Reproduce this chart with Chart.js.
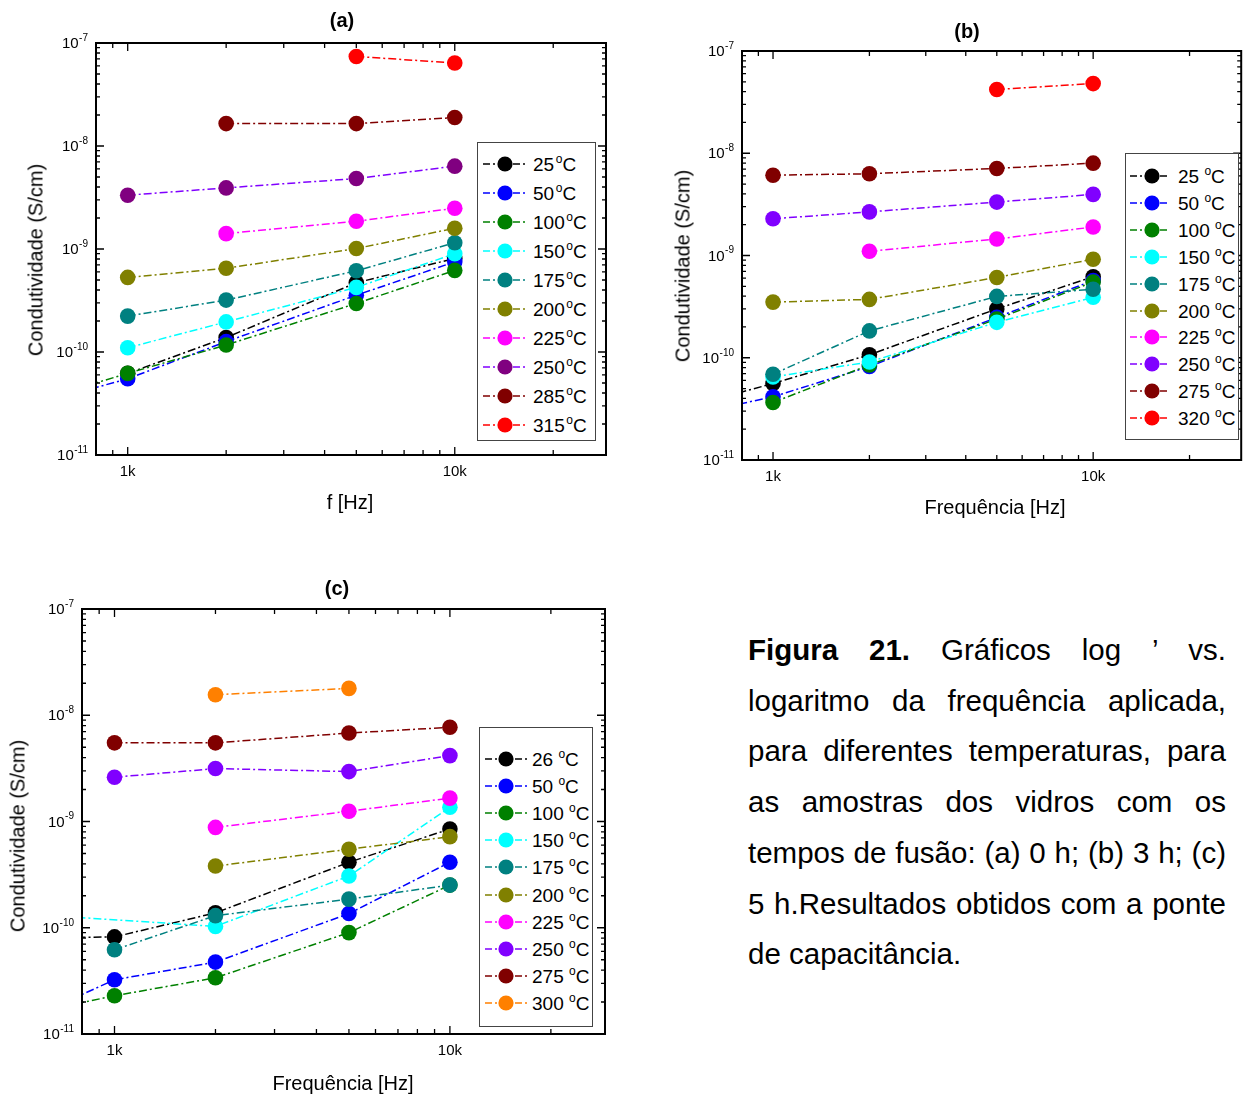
<!DOCTYPE html>
<html><head><meta charset="utf-8">
<script src="https://cdn.jsdelivr.net/npm/chart.js@4.4.1/dist/chart.umd.min.js"></script>
<style>
body{margin:0;background:#fff;width:1249px;height:1095px;position:relative;overflow:hidden;font-family:"Liberation Sans",Arial,Helvetica,sans-serif;color:#000;}
canvas{position:absolute;}
.t{position:absolute;transform:translate(-50%,-50%);white-space:nowrap;}
.title{font-weight:bold;font-size:20px;}
.axt{font-size:20px;}
.yt{transform:translate(-50%,-50%) rotate(-90deg);}
.leg{position:absolute;border:1px solid #444;background:#fff;box-sizing:border-box;}
.lrow{position:absolute;white-space:nowrap;font-size:19px;line-height:20px;}
.lrow sup{font-size:12px;vertical-align:8px;line-height:0;}
.cap{position:absolute;left:748px;width:478px;top:625px;font-size:29.5px;line-height:50.7px;}
.cap div{text-align:justify;text-align-last:justify;white-space:nowrap;}
.cap div.last{text-align:left;text-align-last:left;}
</style></head><body>

<canvas id="ca" width="625" height="500" style="left:0;top:0"></canvas>
<canvas id="cb" width="599" height="500" style="left:650px;top:0"></canvas>
<canvas id="cc" width="625" height="520" style="left:0;top:560px"></canvas>

<div class="t title" style="left:342px;top:20px">(a)</div>
<div class="t title" style="left:967px;top:31px">(b)</div>
<div class="t title" style="left:337px;top:588px">(c)</div>

<div class="t axt" style="left:350px;top:502px">f [Hz]</div>
<div class="t axt" style="left:995px;top:507px">Frequência [Hz]</div>
<div class="t axt" style="left:343px;top:1083px">Frequência [Hz]</div>

<div class="t axt yt" style="left:36px;top:260px">Condutividade (S/cm)</div>
<div class="t axt yt" style="left:683px;top:266px">Condutividade (S/cm)</div>
<div class="t axt yt" style="left:18px;top:836px">Condutividade (S/cm)</div>

<div class="cap">
<div><b>Figura 21.</b> Gráficos log ’ vs.</div>
<div>logaritmo da frequência aplicada,</div>
<div>para diferentes temperaturas, para</div>
<div>as amostras dos vidros com os</div>
<div>tempos de fusão: (a) 0 h; (b) 3 h; (c)</div>
<div>5 h.Resultados obtidos com a ponte</div>
<div class="last">de capacitância.</div>
</div>

<script>
// ---------- shared axis data ----------
const freqHz = [500, 1000, 2000, 5000, 10000];
const xMin = 800, xMax = 29000;
const yMin = 1e-11, yMax = 1e-7;
const xTickVals = [1000, 10000];
const xTickText = ['1k', '10k'];
const xMinorVals = [900, 2000, 3000, 4000, 5000, 6000, 7000, 8000, 9000, 20000];
const yTickVals = [1e-11, 1e-10, 1e-9, 1e-8, 1e-7];
const yTickBase = '10';
const yTickExp = ['-11', '-10', '-9', '-8', '-7'];
const yMinorMult = [2, 3, 4, 5, 6, 7, 8, 9];

// ---------- panel (a): 0 h ----------
const aTemps = ['25', '50', '100', '150', '175', '200', '225', '250', '285', '315'];
const a25  = [null, 6.2e-11, 1.38e-10, 4.7e-10, 8.1e-10];
const a50  = [3.0e-11, 5.5e-11, 1.26e-10, 3.56e-10, 7.5e-10];
const a100 = [3.2e-11, 6.2e-11, 1.17e-10, 2.96e-10, 6.2e-10];
const a150 = [null, 1.10e-10, 1.96e-10, 4.24e-10, 9.0e-10];
const a175 = [null, 2.23e-10, 3.19e-10, 6.14e-10, 1.15e-9];
const a200 = [null, 5.3e-10, 6.5e-10, 1.01e-9, 1.59e-9];
const a225 = [null, null, 1.41e-9, 1.86e-9, 2.49e-9];
const a250 = [null, 3.33e-9, 3.92e-9, 4.83e-9, 6.37e-9];
const a285 = [null, null, 1.65e-8, 1.65e-8, 1.89e-8];
const a315 = [null, null, null, 7.4e-8, 6.4e-8];

// ---------- panel (b): 3 h ----------
const bTemps = ['25', '50', '100', '150', '175', '200', '225', '250', '275', '320'];
const b25  = [3.1e-11, 5.6e-11, 1.07e-10, 3.0e-10, 6.2e-10];
const b50  = [2.6e-11, 4.15e-11, 8.2e-11, 2.48e-10, 5.7e-10];
const b100 = [null, 3.65e-11, 8.5e-11, 2.39e-10, 5.5e-10];
const b150 = [null, 6.5e-11, 9.1e-11, 2.22e-10, 3.9e-10];
const b175 = [null, 6.9e-11, 1.83e-10, 3.98e-10, 4.67e-10];
const b200 = [null, 3.5e-10, 3.72e-10, 6.1e-10, 9.2e-10];
const b225 = [null, null, 1.10e-9, 1.45e-9, 1.90e-9];
const b250 = [null, 2.29e-9, 2.67e-9, 3.33e-9, 3.96e-9];
const b275 = [null, 6.1e-9, 6.3e-9, 7.1e-9, 8.0e-9];
const b320 = [null, null, null, 4.2e-8, 4.8e-8];

// ---------- panel (c): 5 h ----------
const cTemps = ['26', '50', '100', '150', '175', '200', '225', '250', '275', '300'];
const c26  = [8.0e-11, 8.2e-11, 1.38e-10, 4.13e-10, 8.5e-10];
const c50  = [1.2e-11, 3.24e-11, 4.75e-11, 1.36e-10, 4.13e-10];
const c100 = [1.45e-11, 2.29e-11, 3.38e-11, 9.0e-11, 2.52e-10];
const c150 = [1.37e-10, null, 1.03e-10, 3.07e-10, 1.36e-9];
const c175 = [null, 6.2e-11, 1.30e-10, 1.86e-10, 2.52e-10];
const c200 = [null, null, 3.81e-10, 5.48e-10, 7.2e-10];
const c225 = [null, null, 8.8e-10, 1.25e-9, 1.66e-9];
const c250 = [null, 2.61e-9, 3.15e-9, 2.95e-9, 4.17e-9];
const c275 = [null, 5.5e-9, 5.5e-9, 6.8e-9, 7.7e-9];
const c300 = [null, null, 1.56e-8, 1.79e-8, null];

// ---------- colours ----------
const aLine   = ['#000000','#0000FF','#008000','#00FFFF','#008080','#808000','#FF00FF','#8000FF','#800000','#FF0000'];
const aMarker = ['#000000','#0000FF','#008000','#00FFFF','#008080','#808000','#FF00FF','#800080','#800000','#FF0000'];
const bLine   = ['#000000','#0000FF','#008000','#00FFFF','#008080','#808000','#FF00FF','#8000FF','#800000','#FF0000'];
const cLine   = ['#000000','#0000FF','#008000','#00FFFF','#008080','#808000','#FF00FF','#8000FF','#800000','#FF8000'];

const FONT = '"Liberation Sans", Arial, "DejaVu Sans", sans-serif';

const framePlugin = {
  id: 'frame',
  afterDraw(chart) {
    const ctx = chart.ctx, a = chart.chartArea, xs = chart.scales.x, ys = chart.scales.y;
    ctx.save();
    ctx.strokeStyle = '#000';
    ctx.lineWidth = 1.3;
    ctx.beginPath();
    const xt = (v, len) => { const p = xs.getPixelForValue(v);
      ctx.moveTo(p, a.bottom); ctx.lineTo(p, a.bottom - len);
      ctx.moveTo(p, a.top); ctx.lineTo(p, a.top + len); };
    const yt = (v, len) => { const p = ys.getPixelForValue(v);
      ctx.moveTo(a.left, p); ctx.lineTo(a.left + len, p);
      ctx.moveTo(a.right, p); ctx.lineTo(a.right - len, p); };
    xTickVals.forEach(v => xt(v, 8));
    xMinorVals.forEach(v => xt(v, 5));
    yTickVals.forEach(v => yt(v, 8));
    yTickVals.slice(0, -1).forEach(d => yMinorMult.forEach(m => yt(m * d, 4)));
    ctx.stroke();
    ctx.lineWidth = 2;
    ctx.strokeRect(a.left, a.top, a.right - a.left, a.bottom - a.top);
    // y tick labels: "10" with superscript exponent
    ctx.fillStyle = '#000';
    ctx.textBaseline = 'middle';
    ctx.textAlign = 'left';
    yTickVals.forEach((v, i) => {
      const p = ys.getPixelForValue(v);
      ctx.font = '10px ' + FONT;
      const we = ctx.measureText(yTickExp[i]).width;
      ctx.font = '15px ' + FONT;
      const wb = ctx.measureText(yTickBase).width;
      const xr = a.left - 8;
      ctx.fillText(yTickBase, xr - we - wb - 0.5, p + 1);
      ctx.font = '10px ' + FONT;
      ctx.fillText(yTickExp[i], xr - we, p - 5);
    });
    ctx.restore();
  }
};

function buildChart(id, series, lineColors, markerColors, box) {
  const n = series.length;
  const datasets = series.map((vals, i) => ({
    data: freqHz.map((f, j) => ({x: f, y: vals[j]})).filter(p => p.y !== null),
    borderColor: lineColors[i],
    backgroundColor: markerColors[i],
    pointBackgroundColor: markerColors[i],
    pointBorderColor: markerColors[i],
    pointBorderWidth: 0,
    pointRadius: 7.8,
    pointHoverRadius: 7.8,
    borderWidth: 1.5,
    borderDash: [8, 3, 2, 3],
    fill: false,
    tension: 0,
    clip: 0,
    order: n - i
  }));
  new Chart(document.getElementById(id), {
    type: 'line',
    data: {datasets},
    options: {
      responsive: false, animation: false, devicePixelRatio: 1, events: [],
      layout: {padding: box.pad},
      plugins: {legend: {display: false}, title: {display: false}, tooltip: {enabled: false}},
      scales: {
        x: {
          type: 'logarithmic', min: xMin, max: xMax,
          grid: {display: false, drawTicks: false}, border: {display: false},
          afterBuildTicks: s => { s.ticks = xTickVals.map(v => ({value: v})); },
          afterFit: s => { s.height = box.xh; },
          ticks: {callback: (v, i) => xTickText[i], padding: 8, autoSkip: false, maxRotation: 0,
                  color: '#000', font: {family: FONT, size: 15}}
        },
        y: {
          type: 'logarithmic', min: yMin, max: yMax,
          grid: {display: false, drawTicks: false}, border: {display: false},
          afterBuildTicks: s => { s.ticks = yTickVals.map(v => ({value: v})); },
          afterFit: s => { s.width = box.yw; },
          ticks: {display: false}
        }
      }
    },
    plugins: [framePlugin]
  });
}

buildChart('ca', [a25, a50, a100, a150, a175, a200, a225, a250, a285, a315], aLine, aMarker,
  {pad: {left: 0, top: 43, right: 19, bottom: 15}, yw: 96, xh: 30});
buildChart('cb', [b25, b50, b100, b150, b175, b200, b225, b250, b275, b320], bLine, bLine,
  {pad: {left: 0, top: 51, right: 4, bottom: 10}, yw: 92, xh: 30});
buildChart('cc', [c26, c50, c100, c150, c175, c200, c225, c250, c275, c300], cLine, cLine,
  {pad: {left: 0, top: 49, right: 20, bottom: 16}, yw: 82, xh: 30});

// ---------- legends (HTML) ----------
function buildLegend(temps, lineColors, markerColors, L) {
  const box = document.createElement('div');
  box.className = 'leg';
  Object.assign(box.style, {left: L.left + 'px', top: L.top + 'px', width: L.w + 'px', height: L.h + 'px'});
  document.body.appendChild(box);
  temps.forEach((t, i) => {
    const cy = L.first + i * L.step;
    const sw = L.s1 - L.s0, cx = L.cx - L.s0;
    const svg = document.createElementNS('http://www.w3.org/2000/svg', 'svg');
    svg.setAttribute('width', sw); svg.setAttribute('height', 20);
    svg.style.position = 'absolute'; svg.style.left = L.s0 + 'px'; svg.style.top = (cy - 10) + 'px';
    svg.innerHTML = `<line x1="0" y1="10" x2="${sw}" y2="10" stroke="${lineColors[i]}" stroke-width="1.5" stroke-dasharray="7 3 2 3"/>` +
                    `<circle cx="${cx}" cy="10" r="7.6" fill="${markerColors[i]}"/>`;
    document.body.appendChild(svg);
    const tx = document.createElement('div');
    tx.className = 'lrow';
    tx.style.left = L.tx + 'px'; tx.style.top = (cy - 9) + 'px';
    tx.innerHTML = t + L.gap + '<sup>o</sup>C';
    document.body.appendChild(tx);
  });
}
buildLegend(aTemps, aLine, aMarker, {left: 477, top: 142, w: 119, h: 299, first: 164, step: 29, s0: 483, s1: 527, cx: 505, tx: 533, gap: '&#8202;'});
buildLegend(bTemps, bLine, bLine,   {left: 1125, top: 153, w: 114, h: 287, first: 176, step: 26.9, s0: 1130, s1: 1168, cx: 1152, tx: 1178, gap: ' '});
buildLegend(cTemps, cLine, cLine,   {left: 479, top: 727, w: 114, h: 300, first: 759, step: 27.1, s0: 485, s1: 528, cx: 506, tx: 532, gap: ' '});
</script>
</body></html>
